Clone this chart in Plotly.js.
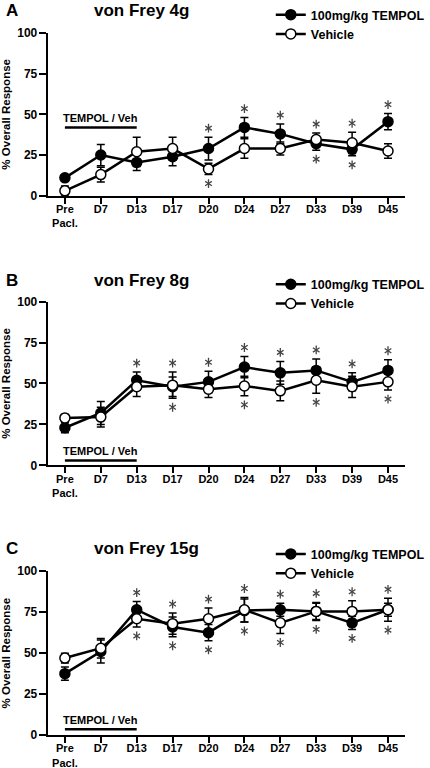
<!DOCTYPE html>
<html><head><meta charset="utf-8">
<script src="https://cdn.plot.ly/plotly-3.0.1.min.js"></script>
<style>html,body{margin:0;padding:0;background:#fff}#chart{width:430px;height:768px}</style>
</head><body><div id="chart"></div>
<script>
// ---- data ----
const days = ["Pre<br>Pacl.", "D7", "D13", "D17", "D20", "D24", "D27", "D33", "D39", "D45"];
const seriesNames = ["100mg/kg TEMPOL", "Vehicle"];
const panelTitles = ["von Frey 4g", "von Frey 8g", "von Frey 15g"];
const panelLetters = ["A", "B", "C"];
const yTicks = [0, 25, 50, 75, 100];

// Panel A (4g)
const a_tempol     = [11, 25, 20.5, 24, 29, 42, 38, 32, 28.5, 45.5];
const a_tempol_err = [1, 6.5, 5, 5.5, 7, 6, 6, 4, 4, 5];
const a_veh        = [3, 13, 27, 29, 16.5, 29, 29, 34.5, 32.5, 27.5];
const a_veh_err    = [3, 4.5, 9, 7, 3.5, 6, 4, 4, 6.5, 4.5];
const a_sig_above  = [0, 0, 0, 0, 1, 1, 1, 1, 1, 1];
const a_sig_below  = [0, 0, 0, 0, 1, 0, 0, 1, 1, 0];

// Panel B (8g)
const b_tempol     = [23, 32, 52, 48, 51, 60, 56.5, 58, 51, 58];
const b_tempol_err = [3, 7, 5, 6, 6.5, 6.5, 7, 7, 5.5, 6.5];
const b_veh        = [29, 29.5, 48, 49, 46.5, 48.5, 45.5, 52, 48, 51];
const b_veh_err    = [2, 6, 6, 8, 5, 6, 6, 8, 6.5, 5];
const b_sig_above  = [0, 0, 1, 1, 1, 1, 1, 1, 1, 1];
const b_sig_below  = [0, 0, 0, 1, 0, 1, 0, 1, 0, 1];

// Panel C (15g)
const c_tempol     = [37.5, 51, 76.5, 66, 62.5, 76, 76.5, 75.5, 68.5, 76.5];
const c_tempol_err = [4, 7, 5, 6, 5, 7, 4, 5, 4, 4];
const c_veh        = [47, 53, 71, 68, 71, 76.5, 68.5, 75.5, 75.5, 76.5];
const c_veh_err    = [3, 6, 5, 6.5, 6.5, 7.5, 6.5, 5.5, 6.5, 7];
const c_sig_above  = [0, 0, 1, 1, 1, 1, 1, 1, 1, 1];
const c_sig_below  = [0, 0, 1, 1, 1, 1, 1, 1, 1, 1];

// ---- build ----
const panels = [
  {t: a_tempol, te: a_tempol_err, v: a_veh, ve: a_veh_err, up: a_sig_above, dn: a_sig_below, barY: 42},
  {t: b_tempol, te: b_tempol_err, v: b_veh, ve: b_veh_err, up: b_sig_above, dn: b_sig_below, barY: 3},
  {t: c_tempol, te: c_tempol_err, v: c_veh, ve: c_veh_err, up: c_sig_above, dn: c_sig_below, barY: 3.5}
];
const W = 430, H = 768;
const plotTopPx = [32, 301, 571];
const plotBotPx = [195, 465, 735];
const titleYPx = [10, 280, 548];
const legendTopPx = [-1, 269, 539];
const STAR_GAP_PX = 9;

const FONT = "Liberation Sans, Arial, Helvetica, sans-serif";
const traces = [], annotations = [], shapes = [];
const layout = {
  width: W, height: H, margin: {l: 0, r: 0, t: 0, b: 0},
  paper_bgcolor: "#fff", plot_bgcolor: "#fff",
  font: {family: FONT, color: "#000"},
  showlegend: true
};

panels.forEach((p, k) => {
  const n = k === 0 ? "" : String(k + 1);
  const xa = "x" + n, ya = "y" + n;
  const legName = "legend" + n;
  traces.push({
    x: days, y: p.t, xaxis: xa, yaxis: ya, name: seriesNames[0], legend: legName,
    type: "scatter", mode: "lines+markers", cliponaxis: false,
    line: {color: "#000", width: 2.5},
    marker: {symbol: "circle", size: 10, color: "#000", line: {color: "#000", width: 1.5}},
    error_y: {type: "data", array: p.te, visible: true, color: "#000", thickness: 1.5, width: 4}
  });
  traces.push({
    x: days, y: p.v, xaxis: xa, yaxis: ya, name: seriesNames[1], legend: legName,
    type: "scatter", mode: "lines+markers", cliponaxis: false,
    line: {color: "#000", width: 2.5},
    marker: {symbol: "circle", size: 10, color: "#fff", line: {color: "#000", width: 1.5}},
    error_y: {type: "data", array: p.ve, visible: true, color: "#000", thickness: 1.5, width: 4}
  });

  // significance asterisks (6-armed: y-up + y-down overlaid), placed beyond error bars
  const unitsPerPx = 100 / (plotBotPx[k] - plotTopPx[k]);
  const gap = STAR_GAP_PX * unitsPerPx;
  const sx = [], sy = [], ss = [];
  for (let i = 0; i < days.length; i++) {
    const ys = [];
    if (p.up[i]) ys.push(Math.max(p.t[i] + p.te[i], p.v[i] + p.ve[i]) + gap);
    if (p.dn[i]) ys.push(Math.min(p.t[i] - p.te[i], p.v[i] - p.ve[i]) - gap);
    ys.forEach(y => {
      sx.push(days[i], days[i]); sy.push(y, y); ss.push("y-up-open", "y-down-open");
    });
  }
  traces.push({
    x: sx, y: sy, xaxis: xa, yaxis: ya, type: "scatter", mode: "markers",
    showlegend: false, hoverinfo: "skip", cliponaxis: false,
    marker: {symbol: ss, size: 5.5, color: "#444", line: {color: "#444", width: 1.3}}
  });

  const top = 1 - plotTopPx[k] / H, bot = 1 - plotBotPx[k] / H;
  layout["xaxis" + n] = {
    domain: [50 / W, 425 / W], anchor: ya, type: "category",
    range: [-0.48, 9.48], showline: true, linewidth: 2, linecolor: "#000",
    ticks: "outside", ticklen: 6, tickwidth: 2, tickcolor: "#000",
    ticklabelstandoff: -4,
    showgrid: false, zeroline: false, fixedrange: true,
    tickfont: {family: FONT, size: 11, color: "#000", weight: "bold"}
  };
  layout["yaxis" + n] = {
    domain: [bot, top], anchor: xa, range: [0, 100],
    tickvals: yTicks, ticktext: yTicks.map(String),
    showline: true, linewidth: 2, linecolor: "#000",
    ticks: "outside", ticklen: 7, tickwidth: 2, tickcolor: "#000",
    ticklabelstandoff: -1,
    showgrid: false, zeroline: false, fixedrange: true,
    tickfont: {family: FONT, size: 12, color: "#000", weight: "bold"},
    title: {text: "% Overall Response", font: {family: FONT, size: 11.5, color: "#000", weight: "bold"}, standoff: 6}
  };
  layout[legName] = {
    x: 284 / W, y: 1 - legendTopPx[k] / H, xanchor: "left", yanchor: "top",
    bgcolor: "rgba(0,0,0,0)", borderwidth: 0, tracegroupgap: 0,
    font: {family: FONT, size: 12.5, color: "#000", weight: "bold"}
  };

  // panel letter + title
  annotations.push({xref: "paper", yref: "paper", x: 4 / W, y: 1 - titleYPx[k] / H,
    xanchor: "left", yanchor: "middle", showarrow: false, text: "<b>" + panelLetters[k] + "</b>",
    font: {family: FONT, size: 17, color: "#000"}});
  annotations.push({xref: "paper", yref: "paper", x: 96 / W, y: 1 - titleYPx[k] / H,
    xanchor: "left", yanchor: "middle", showarrow: false, text: "<b>" + panelTitles[k] + "</b>",
    font: {family: FONT, size: 17, color: "#000"}});

  // treatment bar
  shapes.push({type: "line", xref: xa, yref: ya, x0: 0, x1: 2, y0: p.barY, y1: p.barY,
    line: {color: "#000", width: 2.5}});
  annotations.push({xref: xa, yref: ya, x: 1, y: p.barY, xanchor: "center", yanchor: "bottom",
    yshift: 1, showarrow: false, text: "<b>TEMPOL / Veh</b>",
    font: {family: FONT, size: 11, color: "#000"}});
});
layout.annotations = annotations;
layout.shapes = shapes;

Plotly.newPlot("chart", traces, layout, {displayModeBar: false, staticPlot: true});
</script>
</body></html>
